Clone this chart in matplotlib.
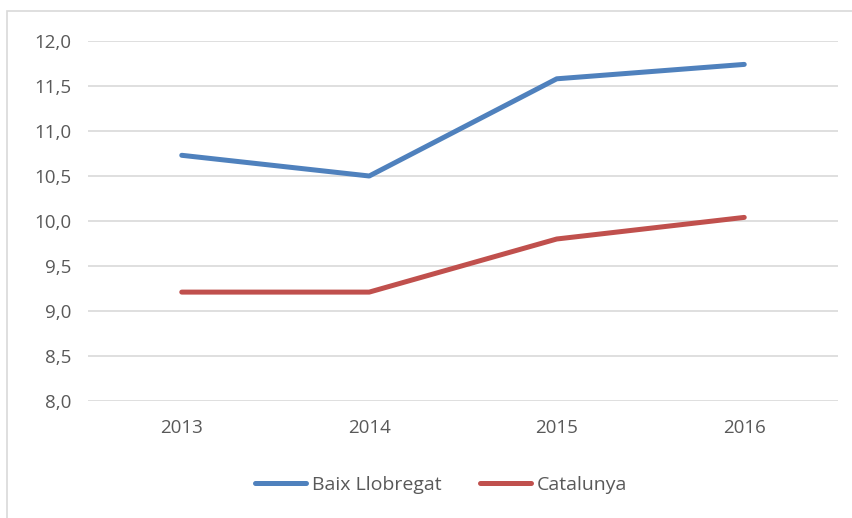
import matplotlib.pyplot as plt
from matplotlib.patches import Rectangle
from matplotlib.ticker import FuncFormatter

years = ['2013', '2014', '2015', '2016']
baix = [10.73, 10.50, 11.58, 11.74]
catalunya = [9.21, 9.21, 9.80, 10.04]

plt.rcParams['font.family'] = ['Open Sans', 'DejaVu Sans']
txt = '#595959'

fig = plt.figure(figsize=(8.53, 5.18), dpi=100)
ax = fig.add_axes([88 / 853, 1 - 401 / 518, 750 / 853, 360 / 518])

# outer chart border
fig.patches.append(Rectangle((7 / 853, -0.05), 850 / 853, 1 - 11 / 518 + 0.05,
                             transform=fig.transFigure, fill=False,
                             edgecolor='#d9d9d9', linewidth=1.2))

x = range(len(years))
ax.plot(x, baix, color='#4f81bd', linewidth=3.6, solid_capstyle='round', label='Baix Llobregat')
ax.plot(x, catalunya, color='#c0504d', linewidth=3.6, solid_capstyle='round', label='Catalunya')

ax.set_xlim(-0.5, 3.5)
ax.set_ylim(8.0, 12.0)
ax.set_yticks([8.0, 8.5, 9.0, 9.5, 10.0, 10.5, 11.0, 11.5, 12.0])
ax.yaxis.set_major_formatter(FuncFormatter(lambda v, p: f'{v:.1f}'.replace('.', ',')))
ax.set_xticks(list(x))
ax.set_xticklabels(years)
ax.grid(axis='y', color='#d9d9d9', linewidth=1.2)
ax.set_axisbelow(True)
for s in ax.spines.values():
    s.set_visible(False)
ax.tick_params(length=0, labelsize=13.5, colors=txt, pad=12)
ax.tick_params(axis='x', pad=13)

leg = fig.legend(loc='center', bbox_to_anchor=(441 / 853, 1 - 485 / 518), ncol=2,
                 frameon=False, fontsize=14, handlelength=2.6, handletextpad=0.3,
                 columnspacing=2.0)
for t in leg.get_texts():
    t.set_color(txt)

fig.savefig('out.png', dpi=100)
